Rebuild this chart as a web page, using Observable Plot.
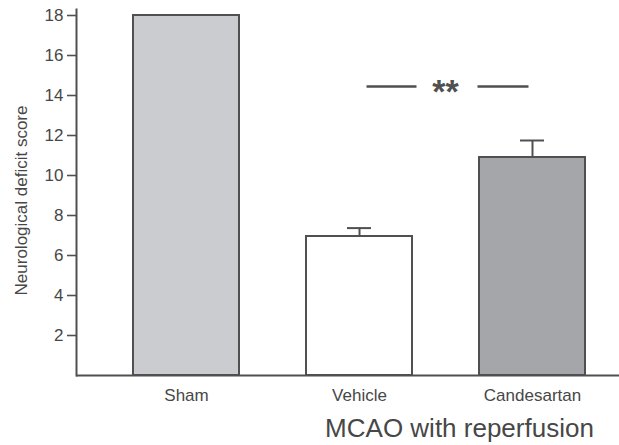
<!DOCTYPE html>
<html><head><meta charset="utf-8">
<script src="https://cdn.jsdelivr.net/npm/d3@7"></script>
<script src="https://cdn.jsdelivr.net/npm/@observablehq/plot@0.6"></script>
<style>
body{margin:0;background:#fff;font-family:"Liberation Sans",Arial,sans-serif;}
#chart svg{display:block;}
#title{margin-left:300px;width:319px;text-align:center;font-size:26px;color:#474747;line-height:28px;white-space:nowrap;}
</style></head><body><div id="chart"></div><div id="title">MCAO with reperfusion</div>
<script>
const groups = ["Sham", "Vehicle", "Candesartan"];
const scores = [18, 6.95, 10.9];
const errors = [0, 0.42, 0.85];
const fills = ["#cbcccf", "#ffffff", "#a5a6a9"];
const yTicks = [2, 4, 6, 8, 10, 12, 14, 16, 18];
const sigPair = ["Vehicle", "Candesartan"];
const sigY = 14.45;
const sigLabel = "**";

const data = groups.map((g, i) => ({group: g, score: scores[i], err: errors[i], fill: fills[i]}));
const errData = data.filter(d => d.err > 0);
const ink = "#505050";

const chart = Plot.plot({
  width: 619,
  height: 414,
  marginLeft: 76,
  marginRight: 0,
  marginTop: 9,
  marginBottom: 39,
  style: {fontFamily: "'Liberation Sans', Arial, sans-serif", fontSize: "17px", color: "#474747", background: "#fff"},
  x: {type: "band", domain: groups, paddingInner: 0.387, paddingOuter: 0.2575, align: 0.632, tickSize: 0, tickPadding: 13, label: null},
  y: {domain: [0, 18.3], ticks: yTicks, tickSize: 9, tickPadding: 4, label: null},
  marks: [
    Plot.ruleX(errData, {x: "group", y1: "score", y2: d => d.score + d.err, stroke: ink, strokeWidth: 2}),
    Plot.tickY(errData, {x: "group", y: d => d.score + d.err, insetLeft: 41, insetRight: 41, stroke: ink, strokeWidth: 2}),
    Plot.barY(data, {x: "group", y: "score", fill: d => d.fill, stroke: ink, strokeWidth: 2}),
    Plot.ruleY([0], {stroke: ink, strokeWidth: 2}),
    Plot.frame({anchor: "left", stroke: ink, strokeWidth: 2}),
    Plot.link([sigPair], {x1: d => d[0], x2: d => d[1], y1: () => sigY, y2: () => sigY, stroke: ink, strokeWidth: 2.5, strokeDasharray: "0,7,50,61,51,300"}),
    Plot.text([sigLabel], {x: () => sigPair[0], y: () => sigY, text: d => d, dx: 86, dy: 6, fontSize: 34, fontWeight: "bold", fill: ink}),
    Plot.text(["Neurological deficit score"], {frameAnchor: "left", textAnchor: "middle", text: d => d, rotate: -90, dx: -55, dy: 8, fontSize: 17, fill: "#474747"})
  ]
});
chart.querySelectorAll("[aria-label='y-axis tick'] path, [aria-label='y-axis'] path").forEach(p => { p.setAttribute("stroke", ink); p.setAttribute("stroke-width", 1.6); });
document.getElementById("chart").appendChild(chart);
</script>
</body></html>
